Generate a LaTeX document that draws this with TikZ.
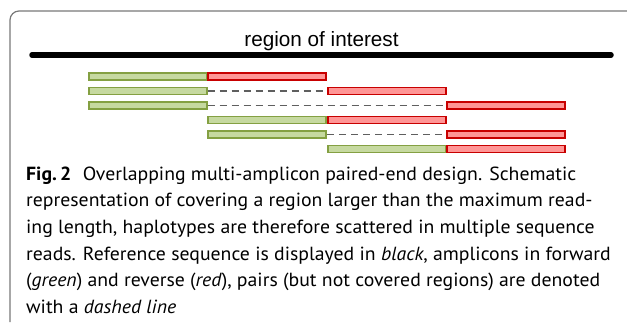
\documentclass[tikz,border=0pt]{standalone}
\usepackage{fontspec}
\setmainfont{PT Sans}[FakeStretch=1.04]
\newfontfamily\labelfont{Liberation Sans}
\definecolor{fwdfill}{RGB}{198,217,160}
\definecolor{fwdline}{RGB}{132,160,66}
\definecolor{revfill}{RGB}{255,150,150}
\definecolor{revline}{RGB}{200,0,0}
\definecolor{framegray}{RGB}{120,120,120}
\definecolor{pairgray}{RGB}{95,95,95}

\begin{document}
\begin{tikzpicture}[x=1pt, y=-1pt,
  amp/.style={minimum width=118pt, minimum height=7pt, inner sep=0pt, line width=1.6pt},
  fwd/.style={amp, draw=fwdline, fill=fwdfill},
  rev/.style={amp, draw=revline, fill=revfill},
  pair/.style={pairgray, line width=1.4pt, dash pattern=on 7pt off 5pt}]
  \useasboundingbox (0,0) rectangle (627,322);

  % --- 1. 枠 ---
  \coordinate (F0) at (10,322);
  \coordinate (F1) at (10,11);
  \coordinate (F2) at (627,11);
  \draw[draw=framegray, line width=1.2pt, rounded corners=9pt] (F0) -- (F1) -- (F2);

  % --- 2. 参照配列 ---
  \coordinate (R0) at (32,55);
  \coordinate (R1) at (611,55);
  \draw[line width=5.5pt, line cap=round] (R0) -- (R1);
  \node[font=\labelfont\fontsize{20.7}{24}\selectfont, anchor=base, inner sep=0pt] (roi) at (321.5,46) {region of interest};

  % --- 3. アンプリコン (forward: 緑, reverse: 赤) ---
  \node[fwd] (f1) at (147.75,76.7) {};
  \node[rev] (r1) at (267.25,76.7) {};

  \node[fwd] (f2) at (147.75,91) {};
  \node[rev] (r2) at (386.75,91) {};
  \draw[pair] (f2) -- (r2);

  \node[fwd] (f3) at (147.75,105.5) {};
  \node[rev] (r3) at (506.25,105.5) {};
  \draw[pair] (f3) -- (r3);

  \node[fwd] (f4) at (267.25,120) {};
  \node[rev] (r4) at (386.75,120) {};

  \node[fwd] (f5) at (267.25,134.5) {};
  \node[rev] (r5) at (506.25,134.5) {};
  \draw[pair] (f5) -- (r5);

  \node[fwd] (f6) at (386.75,149) {};
  \node[rev] (r6) at (506.25,149) {};

  % --- 4. キャプション (base = 最終行のベースライン) ---
  \node[anchor=base west, align=left, inner sep=0pt, font=\fontsize{19}{26.7}\selectfont] (cap) at (26,313.5)
    {\textbf{Fig.\,2}\hspace{0.6em}Overlapping multi-amplicon paired-end design. Schematic\\
     representation of covering a region larger than the maximum read-\\
     ing length, haplotypes are therefore scattered in multiple sequence\\
     reads. Reference sequence is displayed in \textit{black}, amplicons in forward\\
     (\textit{green}) and reverse (\textit{red}), pairs (but not covered regions) are denoted\\
     with a \textit{dashed line}};
\end{tikzpicture}
\end{document}
